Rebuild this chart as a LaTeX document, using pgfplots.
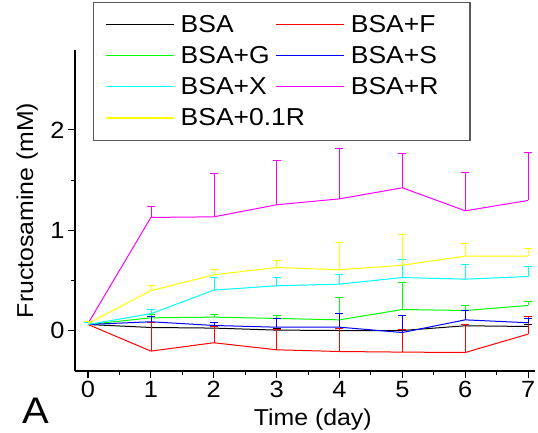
\documentclass[border=0pt]{standalone}
\usepackage{pgfplots}
\pgfplotsset{compat=1.18}
\usepackage{fontspec}
\setmainfont{Liberation Sans}[FakeStretch=1.08]
\definecolor{cBSA}{RGB}{0,0,0}
\definecolor{cF}{RGB}{255,0,0}
\definecolor{cG}{RGB}{0,255,0}
\definecolor{cS}{RGB}{0,0,255}
\definecolor{cX}{RGB}{0,255,255}
\definecolor{cR}{RGB}{255,0,255}
\definecolor{cY}{RGB}{255,255,0}
\begin{document}
\begin{tikzpicture}
\useasboundingbox (0,0) rectangle (538pt,432pt);
\begin{axis}[
  at={(75pt,61pt)}, anchor=south west,
  scale only axis, width=460pt, height=321pt,
  xmin=-0.207, xmax=7.11, ymin=-0.4, ymax=2.794,
  axis x line*=bottom, axis y line*=left,
  axis line style={line width=1.2pt, black},
  xtick={0,...,7}, ytick={0,1,2},
  minor x tick num=1, minor y tick num=1,
  tick align=outside, major tick length=7pt, minor tick length=4pt,
  tick style={line width=1.1pt, black},
  /pgf/number format/assume math mode=true,
  ticklabel style={font=\fontsize{23.5}{28}\selectfont},
  xlabel={Time (day)}, ylabel={Fructosamine (mM)},
  label style={font=\fontsize{23}{28}\selectfont},
  xlabel style={at={(axis description cs:0.517,0)}, anchor=base, yshift=-54.5pt},
  ylabel style={at={(axis description cs:-0.0913,0.5)}, anchor=base},
  error bars/y dir=plus, error bars/y explicit,
  error bars/error mark options={rotate=90, mark size=4pt, line width=1pt},
  every axis plot/.append style={line width=1pt},
  legend columns=2,
  legend cell align=left,
  legend image code/.code={\draw[#1, line width=1.2pt] (0pt,0pt) -- (68pt,0pt);},
  legend style={at={(rel axis cs:0.039,0.717)}, anchor=south west,
    draw=black!65, line width=1.2pt,
    font=\fontsize{24.5}{29}\selectfont,
    inner xsep=12pt, inner ysep=11pt, row sep=8.5pt, column sep=4pt},
]
\addplot[cBSA, error bars/error bar style={cBSA}] table[x=x, y=y, y error=e] {
x y e
0 0.063 0.02
1 0.033 0.054
2 0.027 0.012
3 0.007 0.012
4 0.003 0.015
5 0.003 0.012
6 0.050 0.014
7 0.043 0.024
};
\addplot[cF, error bars/error bar style={cF}] table[x=x, y=y, y error=e] {
x y e
0 0.063 0.02
1 -0.202 0.28
2 -0.119 0.16
3 -0.189 0.20
4 -0.206 0.226
5 -0.212 0.22
6 -0.216 0.28
7 -0.033 0.18
};
\addplot[cG, error bars/error bar style={cG}] table[x=x, y=y, y error=e] {
x y e
0 0.063 0.02
1 0.129 0.037
2 0.136 0.030
3 0.123 0.026
4 0.109 0.219
5 0.212 0.269
6 0.202 0.050
7 0.252 0.037
};
\addplot[cS, error bars/error bar style={cS}] table[x=x, y=y, y error=e] {
x y e
0 0.063 0.02
1 0.090 0.053
2 0.053 0.030
3 0.036 0.084
4 0.036 0.140
5 -0.017 0.166
6 0.109 0.093
7 0.080 0.040
};
\addplot[cX, error bars/error bar style={cX}] table[x=x, y=y, y error=e] {
x y e
0 0.063 0.02
1 0.170 0.042
2 0.405 0.125
3 0.448 0.082
4 0.464 0.093
5 0.530 0.180
6 0.514 0.146
7 0.540 0.100
};
\addplot[cR, error bars/error bar style={cR}] table[x=x, y=y, y error=e] {
x y e
0 0.073 0.02
1 1.128 0.106
2 1.134 0.432
3 1.254 0.436
4 1.313 0.505
5 1.423 0.337
6 1.194 0.378
7 1.297 0.473
};
\addplot[cY, error bars/error bar style={cY}] table[x=x, y=y, y error=e] {
x y e
0 0.073 0.02
1 0.400 0.048
2 0.557 0.053
3 0.630 0.070
4 0.607 0.272
5 0.653 0.305
6 0.743 0.127
7 0.743 0.077
};
\legend{BSA, \makebox[105pt][l]{BSA+F}, BSA+G, BSA+S, BSA+X, BSA+R, \makebox[0pt][l]{BSA+0.1R}}
\end{axis}
\node[anchor=base west, inner sep=0pt, font=\fontsize{37}{40}\selectfont] at (22pt,9pt) {A};
\end{tikzpicture}
\end{document}
